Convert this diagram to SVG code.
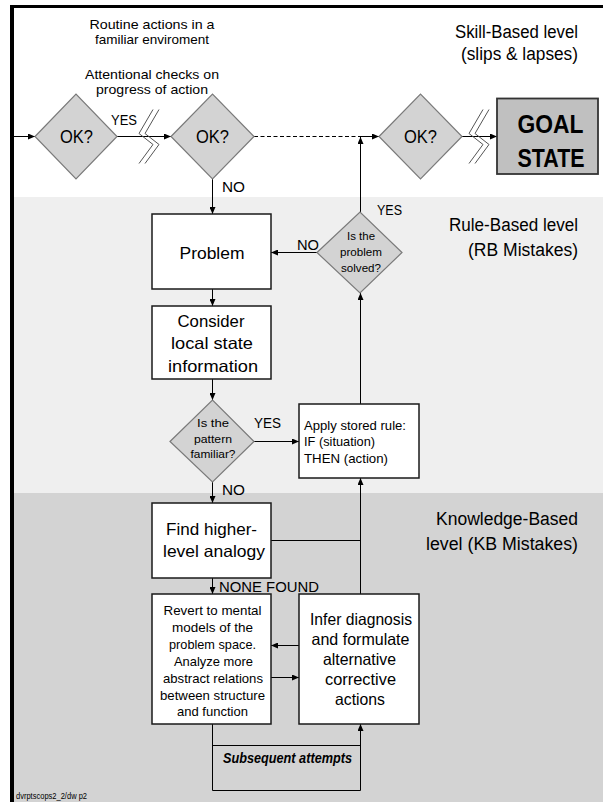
<svg xmlns="http://www.w3.org/2000/svg" width="603" height="802" viewBox="0 0 603 802">
  <defs>
    <marker id="ah" markerUnits="userSpaceOnUse" markerWidth="7" markerHeight="6" refX="7" refY="3" orient="auto">
      <path d="M0,0 L7,3 L0,6 z" fill="#000"/>
    </marker>
    <style>
      .t { font-family: "Liberation Sans", Arial, sans-serif; fill: #000; }
      .c { text-anchor: middle; }
      .e { text-anchor: end; }
      .box { fill: #fff; stroke: #1a1a1a; stroke-width: 1.5; }
      .dia { fill: #d3d3d3; stroke: #7a7a7a; stroke-width: 1.2; }
      .ln { fill: none; stroke: #000; stroke-width: 1; }
      .arr { marker-end: url(#ah); }
      .dash { stroke-dasharray: 4 2.5; }
      .brk { fill: none; stroke: #555; stroke-width: 1; }
      .lvl { font-size: 18px; }
      .lbl { font-size: 14px; }
      .note { font-size: 13px; }
      .big { font-size: 16.5px; }
      .med { font-size: 13.5px; }
      .sm { font-size: 11px; }
    </style>
  </defs>

  <!-- level bands -->
  <rect x="14" y="8" width="589" height="189" fill="#ffffff"/>
  <rect x="14" y="197" width="589" height="296" fill="#efefef"/>
  <rect x="14" y="493" width="589" height="309" fill="#d3d3d3"/>
  <!-- frame -->
  <rect x="10" y="5" width="593" height="3" fill="#000"/>
  <rect x="10" y="5" width="4" height="797" fill="#000"/>

  <!-- annotations -->
  <g id="annotations" class="t note c">
    <text x="152" y="29" textLength="125" lengthAdjust="spacingAndGlyphs">Routine actions in a</text>
    <text x="152" y="44" textLength="114" lengthAdjust="spacingAndGlyphs">familiar enviroment</text>
    <text x="152" y="78.5" textLength="134" lengthAdjust="spacingAndGlyphs">Attentional checks on</text>
    <text x="152" y="93.5" textLength="112" lengthAdjust="spacingAndGlyphs">progress of action</text>
  </g>
  <g id="levels" class="t lvl e">
    <text x="578" y="38" textLength="123" lengthAdjust="spacingAndGlyphs">Skill-Based level</text>
    <text x="578" y="60" textLength="117" lengthAdjust="spacingAndGlyphs">(slips &amp; lapses)</text>
    <text x="578" y="231" textLength="129" lengthAdjust="spacingAndGlyphs">Rule-Based level</text>
    <text x="578" y="256" textLength="110" lengthAdjust="spacingAndGlyphs">(RB Mistakes)</text>
    <text x="578" y="525" textLength="142" lengthAdjust="spacingAndGlyphs">Knowledge-Based</text>
    <text x="578" y="550" textLength="152" lengthAdjust="spacingAndGlyphs">level (KB Mistakes)</text>
  </g>

  <!-- connectors -->
  <g id="connectors">
    <line class="ln arr" x1="14" y1="136.5" x2="35" y2="136.5"/>
    <line class="ln arr" x1="117" y1="136.5" x2="171" y2="136.5"/>
    <line class="ln dash" x1="254" y1="136.5" x2="360" y2="136.5"/>
    <line class="ln arr" x1="360" y1="136.5" x2="379" y2="136.5"/>
    <line class="ln arr" x1="462" y1="136.5" x2="497" y2="136.5"/>
    <line class="ln arr" x1="360.5" y1="212" x2="360.5" y2="137"/>
    <line class="ln arr" x1="212.5" y1="179" x2="212.5" y2="214"/>
    <line class="ln arr" x1="317" y1="252.5" x2="271" y2="252.5"/>
    <line class="ln arr" x1="212.5" y1="289" x2="212.5" y2="306"/>
    <line class="ln arr" x1="212.5" y1="379" x2="212.5" y2="400"/>
    <line class="ln arr" x1="254" y1="441.5" x2="299" y2="441.5"/>
    <line class="ln arr" x1="360.5" y1="404" x2="360.5" y2="293"/>
    <line class="ln arr" x1="212.5" y1="482" x2="212.5" y2="503"/>
    <line class="ln" x1="271" y1="540.5" x2="360.5" y2="540.5"/>
    <line class="ln arr" x1="360.5" y1="594" x2="360.5" y2="478"/>
    <line class="ln arr" x1="212.5" y1="578" x2="212.5" y2="594"/>
    <line class="ln arr" x1="299" y1="645.5" x2="271" y2="645.5"/>
    <line class="ln arr" x1="271" y1="677.5" x2="299" y2="677.5"/>
    <polyline class="ln arr" points="212.5,724 212.5,790.5 360.5,790.5 360.5,724"/>
    <line class="ln" x1="212.5" y1="745.5" x2="360.5" y2="745.5"/>
    <!-- break marks on the skill-based path -->
    <polyline class="brk" points="153,109.5 139,133.5 153,144.5 139,163.5"/>
    <polyline class="brk" points="159,109.5 145,133.5 159,144.5 145,163.5"/>
    <polyline class="brk" points="483,109.5 469,133.5 483,144.5 469,163.5"/>
    <polyline class="brk" points="489,109.5 475,133.5 489,144.5 475,163.5"/>
  </g>

  <!-- skill-based checks -->
  <g id="check1">
    <polygon class="dia" points="35,136.5 76,94 117,136.5 76,179"/>
    <text class="t c" x="76.5" y="143" font-size="19" textLength="33" lengthAdjust="spacingAndGlyphs">OK?</text>
  </g>
  <g id="check2">
    <polygon class="dia" points="171,136.5 212.5,94 254,136.5 212.5,179"/>
    <text class="t c" x="212.5" y="143" font-size="19" textLength="33" lengthAdjust="spacingAndGlyphs">OK?</text>
  </g>
  <g id="check3">
    <polygon class="dia" points="379,136.5 420.5,94 462,136.5 420.5,179"/>
    <text class="t c" x="420.5" y="143" font-size="19" textLength="33" lengthAdjust="spacingAndGlyphs">OK?</text>
  </g>
  <g id="goal">
    <rect x="497" y="98.5" width="101" height="75.5" fill="#c0c0c0" stroke="#333" stroke-width="1.8"/>
    <text class="t c" x="550.5" y="133" font-size="26" font-weight="bold" textLength="66" lengthAdjust="spacingAndGlyphs">GOAL</text>
    <text class="t c" x="551" y="167" font-size="26" font-weight="bold" textLength="67" lengthAdjust="spacingAndGlyphs">STATE</text>
  </g>

  <!-- rule-based level -->
  <g id="problem">
    <rect class="box" x="152" y="214" width="119" height="75"/>
    <text class="t c big" x="212" y="258.5" textLength="65" lengthAdjust="spacingAndGlyphs">Problem</text>
  </g>
  <g id="solved">
    <polygon class="dia" points="317,252.5 360,212 402,252.5 360,293"/>
    <text class="t c sm" x="361" y="240" textLength="28" lengthAdjust="spacingAndGlyphs">Is the</text>
    <text class="t c sm" x="361" y="256" textLength="42" lengthAdjust="spacingAndGlyphs">problem</text>
    <text class="t c sm" x="361" y="272" textLength="40" lengthAdjust="spacingAndGlyphs">solved?</text>
  </g>
  <g id="consider">
    <rect class="box" x="152" y="306" width="119" height="73"/>
    <text class="t c big" x="211" y="327" textLength="67" lengthAdjust="spacingAndGlyphs">Consider</text>
    <text class="t c big" x="212" y="349" textLength="82" lengthAdjust="spacingAndGlyphs">local state</text>
    <text class="t c big" x="213" y="372" textLength="90" lengthAdjust="spacingAndGlyphs">information</text>
  </g>
  <g id="familiar">
    <polygon class="dia" points="170,441.5 212.5,400 254,441.5 212.5,482"/>
    <text class="t c sm" x="213" y="427" textLength="32" lengthAdjust="spacingAndGlyphs">Is the</text>
    <text class="t c sm" x="213" y="442.5" textLength="38" lengthAdjust="spacingAndGlyphs">pattern</text>
    <text class="t c sm" x="213" y="458" textLength="45" lengthAdjust="spacingAndGlyphs">familiar?</text>
  </g>
  <g id="apply">
    <rect class="box" x="299" y="404" width="120" height="74"/>
    <text class="t" x="304" y="429.5" font-size="13" textLength="102" lengthAdjust="spacingAndGlyphs">Apply stored rule:</text>
    <text class="t" x="304" y="446" font-size="13" textLength="71" lengthAdjust="spacingAndGlyphs">IF (situation)</text>
    <text class="t" x="304" y="462.5" font-size="13" textLength="84" lengthAdjust="spacingAndGlyphs">THEN (action)</text>
  </g>

  <!-- knowledge-based level -->
  <g id="analogy">
    <rect class="box" x="152" y="503" width="119" height="75"/>
    <text class="t c big" x="211.5" y="535" textLength="91" lengthAdjust="spacingAndGlyphs">Find higher-</text>
    <text class="t c big" x="214" y="557" textLength="102" lengthAdjust="spacingAndGlyphs">level analogy</text>
  </g>
  <g id="revert">
    <rect class="box" x="152" y="594" width="119" height="130"/>
    <text class="t c med" x="212.5" y="615" textLength="98" lengthAdjust="spacingAndGlyphs">Revert to mental</text>
    <text class="t c med" x="212.5" y="632" textLength="81" lengthAdjust="spacingAndGlyphs">models of the</text>
    <text class="t c med" x="212.5" y="648.5" textLength="87" lengthAdjust="spacingAndGlyphs">problem space.</text>
    <text class="t c med" x="213.5" y="666" textLength="79" lengthAdjust="spacingAndGlyphs">Analyze more</text>
    <text class="t c med" x="213" y="683" textLength="100" lengthAdjust="spacingAndGlyphs">abstract relations</text>
    <text class="t c med" x="212.5" y="699.5" textLength="105" lengthAdjust="spacingAndGlyphs">between structure</text>
    <text class="t c med" x="212.5" y="716" textLength="71" lengthAdjust="spacingAndGlyphs">and function</text>
  </g>
  <g id="infer">
    <rect class="box" x="299" y="594" width="120" height="130"/>
    <text class="t c big" x="361" y="625" textLength="102" lengthAdjust="spacingAndGlyphs">Infer diagnosis</text>
    <text class="t c big" x="360.5" y="645" textLength="98" lengthAdjust="spacingAndGlyphs">and formulate</text>
    <text class="t c big" x="359.5" y="665" textLength="73" lengthAdjust="spacingAndGlyphs">alternative</text>
    <text class="t c big" x="360.5" y="685" textLength="71" lengthAdjust="spacingAndGlyphs">corrective</text>
    <text class="t c big" x="360" y="705" textLength="50" lengthAdjust="spacingAndGlyphs">actions</text>
  </g>

  <!-- connector labels -->
  <g id="labels" class="t lbl">
    <text x="111" y="125" textLength="26" lengthAdjust="spacingAndGlyphs">YES</text>
    <text x="222" y="192" textLength="23" lengthAdjust="spacingAndGlyphs">NO</text>
    <text x="297" y="249.5" textLength="22" lengthAdjust="spacingAndGlyphs">NO</text>
    <text x="377" y="215" textLength="25" lengthAdjust="spacingAndGlyphs">YES</text>
    <text x="254" y="428" textLength="27" lengthAdjust="spacingAndGlyphs">YES</text>
    <text x="222" y="495" textLength="23" lengthAdjust="spacingAndGlyphs">NO</text>
    <text x="219" y="592" textLength="100" lengthAdjust="spacingAndGlyphs">NONE FOUND</text>
    <text x="287.5" y="763" text-anchor="middle" font-weight="bold" font-style="italic" textLength="129" lengthAdjust="spacingAndGlyphs">Subsequent attempts</text>
  </g>

  <text class="t" x="16" y="798.5" font-size="9.5" textLength="71" lengthAdjust="spacingAndGlyphs">dvrptscops2_2/dw  p2</text>
</svg>
